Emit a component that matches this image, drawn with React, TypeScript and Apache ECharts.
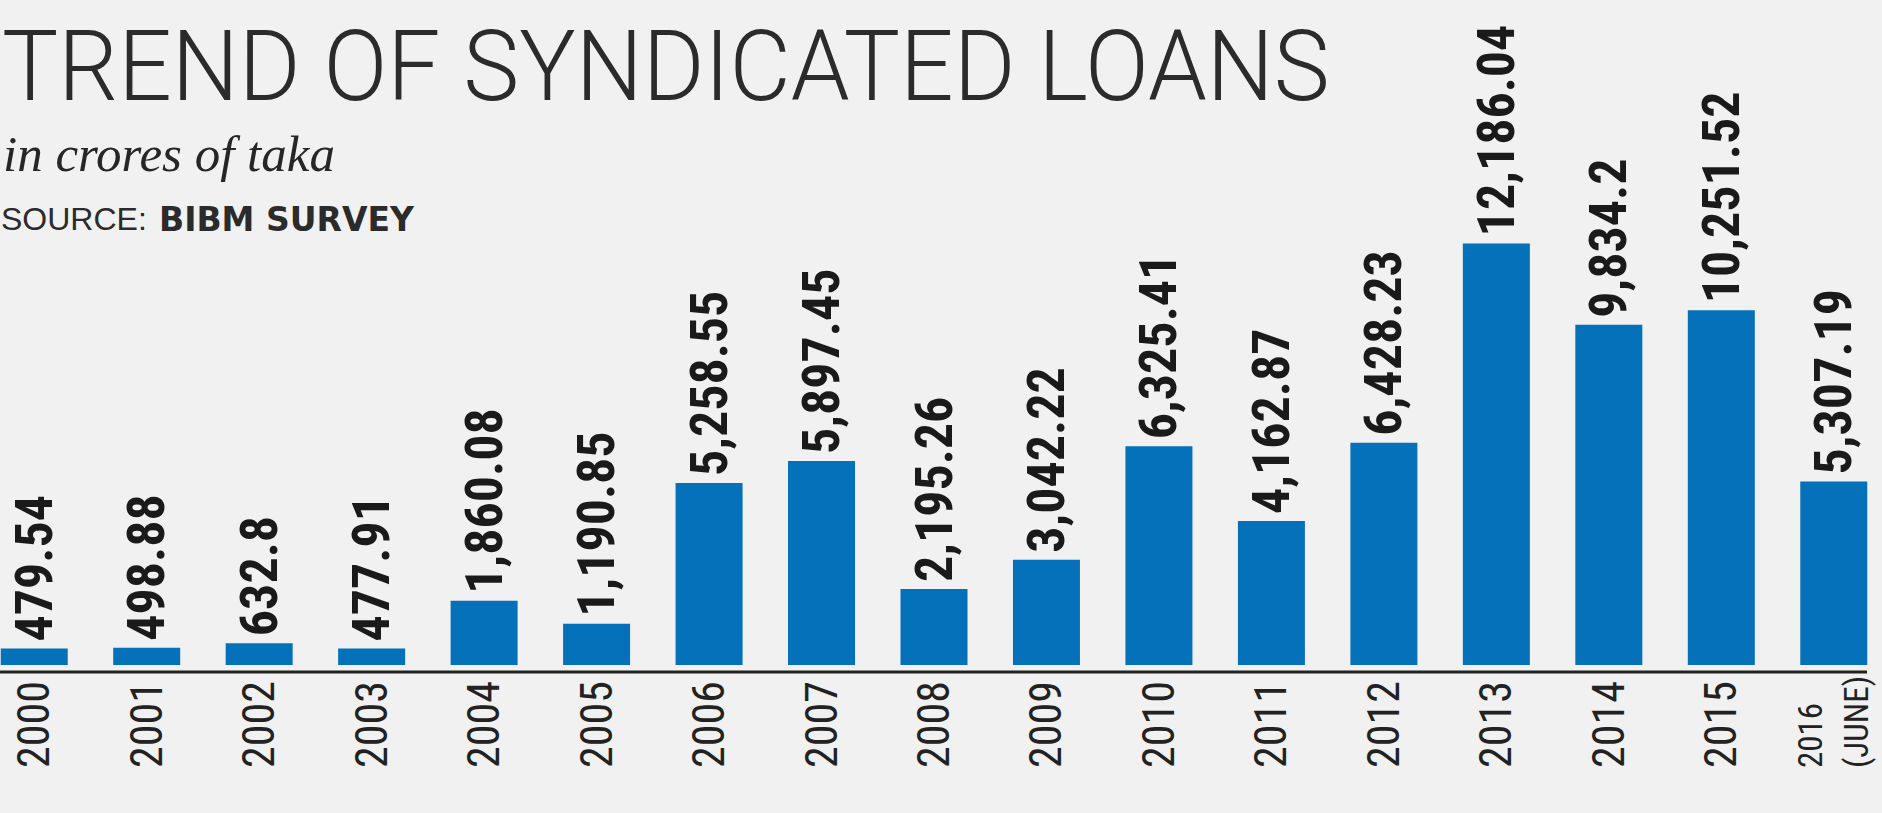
import React, { useEffect, useRef } from "react";
import * as echarts from "echarts";

const TITLE = "TREND OF SYNDICATED LOANS";
const SUBTITLE = "in crores of taka";
const SOURCE_LABEL = "SOURCE:";
const SOURCE_NAME = "BIBM SURVEY";

const categories = [
  "2000", "2001", "2002", "2003", "2004", "2005", "2006", "2007", "2008",
  "2009", "2010", "2011", "2012", "2013", "2014", "2015", "2016\n(JUNE)",
];

const values = [
  479.54, 498.88, 632.8, 477.91, 1860.08, 1190.85, 5258.55, 5897.45, 2195.26,
  3042.22, 6325.41, 4162.87, 6428.23, 12186.04, 9834.2, 10251.52, 5307.19,
];

const fmt = new Intl.NumberFormat("en-US", { maximumFractionDigits: 2 });

const CONDENSED =
  "'Roboto Condensed', 'DejaVu Sans Condensed', 'Liberation Sans Narrow', Roboto, sans-serif";

// the chart canvas is shifted left so that the first bar touches the page edge
const SHIFT = 22;

function measure(text: string, font: string): number {
  const c = document.createElement("canvas");
  const ctx = c.getContext("2d");
  if (!ctx) return 0;
  ctx.font = font;
  return ctx.measureText(text).width;
}

export default function App() {
  const ref = useRef<HTMLDivElement | null>(null);

  useEffect(() => {
    document.body.style.margin = "0";
    if (!ref.current) return;
    const chart = echarts.init(ref.current, undefined, { renderer: "svg" });

    const titleW = measure(TITLE, "300 98px Roboto");
    const titleScale = titleW > 0 ? 1328 / titleW : 1;

    chart.setOption({
      animation: false,
      backgroundColor: "#f1f1f1",
      grid: { left: 0, right: 0, top: 100, bottom: 141, containLabel: false },
      graphic: [
        {
          type: "text",
          x: SHIFT + 2,
          y: 66,
          scaleX: titleScale,
          style: {
            text: TITLE,
            fontFamily: "Roboto",
            fontWeight: 300,
            fontSize: 98,
            fill: "#2b2b2b",
            verticalAlign: "middle",
            align: "left",
          },
        },
        {
          type: "text",
          x: SHIFT + 3,
          y: 154,
          style: {
            text: SUBTITLE,
            fontFamily: "Liberation Serif",
            fontStyle: "italic",
            fontSize: 51,
            fill: "#262626",
            verticalAlign: "middle",
            align: "left",
          },
        },
        {
          type: "text",
          x: SHIFT + 1,
          y: 219,
          style: {
            text: SOURCE_LABEL,
            fontFamily: "Liberation Sans",
            fontSize: 32,
            fill: "#2b2b2b",
            verticalAlign: "middle",
            align: "left",
          },
        },
        {
          type: "text",
          x: SHIFT + 159,
          y: 219,
          style: {
            text: SOURCE_NAME,
            fontFamily: "DejaVu Sans",
            fontWeight: "bold",
            fontSize: 33,
            fill: "#2b2b2b",
            verticalAlign: "middle",
            align: "left",
          },
        },
        {
          type: "line",
          shape: { x1: SHIFT, y1: 672, x2: SHIFT + 1867, y2: 672 },
          style: { stroke: "#222", lineWidth: 3 },
        },
      ],
      xAxis: {
        type: "category",
        data: categories,
        axisTick: { show: false },
        axisLine: { show: false, onZero: false },
        axisLabel: {
          interval: 0,
          rotate: 90,
          align: "left",
          verticalAlign: "middle",
          margin: 96,
          fontFamily: CONDENSED,
          fontSize: 44,
          color: "#222",
          formatter: (v: string) => {
            if (v.indexOf("\n") >= 0) {
              return v
                .split("\n")
                .map((p) => `{j|${p}}`)
                .join("\n");
            }
            return v;
          },
          rich: {
            j: {
              fontFamily: CONDENSED,
              fontSize: 33,
              lineHeight: 46,
              color: "#222",
            },
          },
        },
      },
      yAxis: {
        type: "value",
        min: -200,
        max: 16330,
        show: false,
      },
      series: [
        {
          type: "bar",
          data: values,
          barWidth: 67,
          itemStyle: { color: "#0571bb" },
          label: {
            show: true,
            position: "top",
            rotate: 90,
            align: "left",
            verticalAlign: "middle",
            distance: 7,
            fontFamily: CONDENSED,
            fontWeight: "bold",
            fontSize: 52,
            color: "#1a1a1a",
            formatter: (p: any) => fmt.format(p.value),
          },
        },
      ],
    });
    return () => chart.dispose();
  }, []);

  return (
    <div
      style={{
        position: "relative",
        width: 1882,
        height: 813,
        overflow: "hidden",
        background: "#f1f1f1",
      }}
    >
      <div
        ref={ref}
        style={{
          position: "absolute",
          left: -SHIFT,
          top: 0,
          width: 1882 + SHIFT + 8,
          height: 813,
        }}
      />
    </div>
  );
}
